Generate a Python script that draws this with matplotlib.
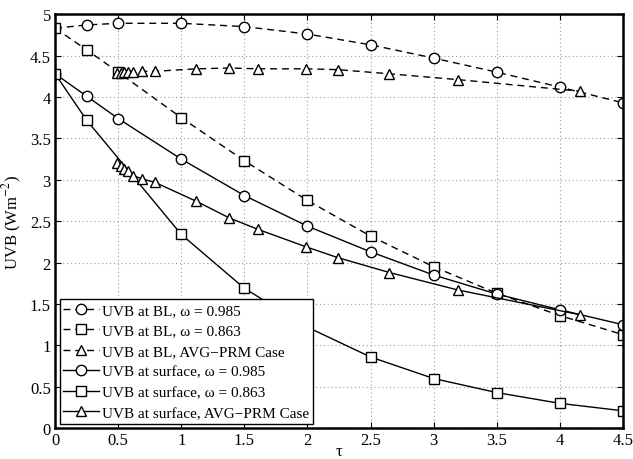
import matplotlib
matplotlib.use('Agg')
import matplotlib.pyplot as plt

plt.rcParams['font.family'] = ['Liberation Serif', 'DejaVu Serif']
plt.rcParams['mathtext.fontset'] = 'stix'

# BL series
bl_x = [0, 0.25, 0.5, 1, 1.5, 2, 2.5, 3, 3.5, 4, 4.5]
bl_985 = [4.83, 4.87, 4.89, 4.89, 4.85, 4.76, 4.63, 4.47, 4.30, 4.12, 3.93]
bl_863 = [4.83, 4.57, 4.30, 3.75, 3.23, 2.75, 2.32, 1.95, 1.63, 1.36, 1.13]
avg_x = [0.49, 0.52, 0.55, 0.58, 0.62, 0.69, 0.79, 1.12, 1.38, 1.61, 1.99, 2.24, 2.65, 3.19, 4.16]
bl_avg = [4.29, 4.29, 4.30, 4.30, 4.30, 4.31, 4.31, 4.34, 4.35, 4.34, 4.34, 4.33, 4.28, 4.21, 4.07]

# surface series
sf_x = [0, 0.25, 0.5, 1, 1.5, 2, 2.5, 3, 3.5, 4, 4.5]
sf_985 = [4.28, 4.01, 3.74, 3.25, 2.81, 2.44, 2.13, 1.85, 1.62, 1.43, 1.25]
sf_863_x = [0, 0.25, 1, 1.5, 2, 2.5, 3, 3.5, 4, 4.5]
sf_863 = [4.28, 3.72, 2.34, 1.69, 1.22, 0.86, 0.60, 0.43, 0.30, 0.21]
sf_avg = [3.20, 3.17, 3.13, 3.10, 3.05, 3.01, 2.97, 2.74, 2.54, 2.40, 2.19, 2.06, 1.88, 1.67, 1.37]

fig = plt.figure(figsize=(6.33, 4.60), dpi=100)
ax = fig.add_axes([0.087, 0.067, 0.897, 0.90])

mk = dict(markerfacecolor='white', markeredgecolor='black', markersize=7.5,
          color='black', linewidth=1.0, markeredgewidth=1.0)
dash = dict(linestyle=(0, (5, 3.5)))

ax.plot(bl_x, bl_985, marker='o', label='UVB at BL, \u03c9 = 0.985', **dash, **mk)
ax.plot(bl_x, bl_863, marker='s', label='UVB at BL, \u03c9 = 0.863', **dash, **mk)
ax.plot(avg_x, bl_avg, marker='^', label='UVB at BL, AVG\u2212PRM Case', **dash, **mk)
ax.plot(sf_x, sf_985, '-', marker='o', label='UVB at surface, \u03c9 = 0.985', **mk)
ax.plot(sf_863_x, sf_863, '-', marker='s', label='UVB at surface, \u03c9 = 0.863', **mk)
ax.plot(avg_x, sf_avg, '-', marker='^', label='UVB at surface, AVG\u2212PRM Case', **mk)

ax.set_xlim(0, 4.5)
ax.set_ylim(0, 5)
ax.set_xticks([0, 0.5, 1, 1.5, 2, 2.5, 3, 3.5, 4, 4.5])
ax.set_xticklabels(['0', '0.5', '1', '1.5', '2', '2.5', '3', '3.5', '4', '4.5'])
ax.set_yticks([0, 0.5, 1, 1.5, 2, 2.5, 3, 3.5, 4, 4.5, 5])
ax.set_yticklabels(['0', '0.5', '1', '1.5', '2', '2.5', '3', '3.5', '4', '4.5', '5'])
ax.grid(True, linestyle=(0, (1, 2.5)), color='#999999', linewidth=0.8)
ax.tick_params(direction='in', top=True, right=True, labelsize=12, length=4, pad=3)
for s in ax.spines.values():
    s.set_linewidth(1.8)

ax.set_xlabel('\u03c4', fontsize=12, labelpad=-4)
ax.set_ylabel(r'UVB (Wm$^{-2}$)', fontsize=12, labelpad=4)

leg = ax.legend(loc='lower left', fontsize=11, frameon=True, fancybox=False,
                edgecolor='black', framealpha=1, borderaxespad=0.3,
                handlelength=2.3, handletextpad=0.2, labelspacing=0.45,
                borderpad=0.25)
leg.get_frame().set_linewidth(1.0)

fig.savefig('out.png', dpi=100)
